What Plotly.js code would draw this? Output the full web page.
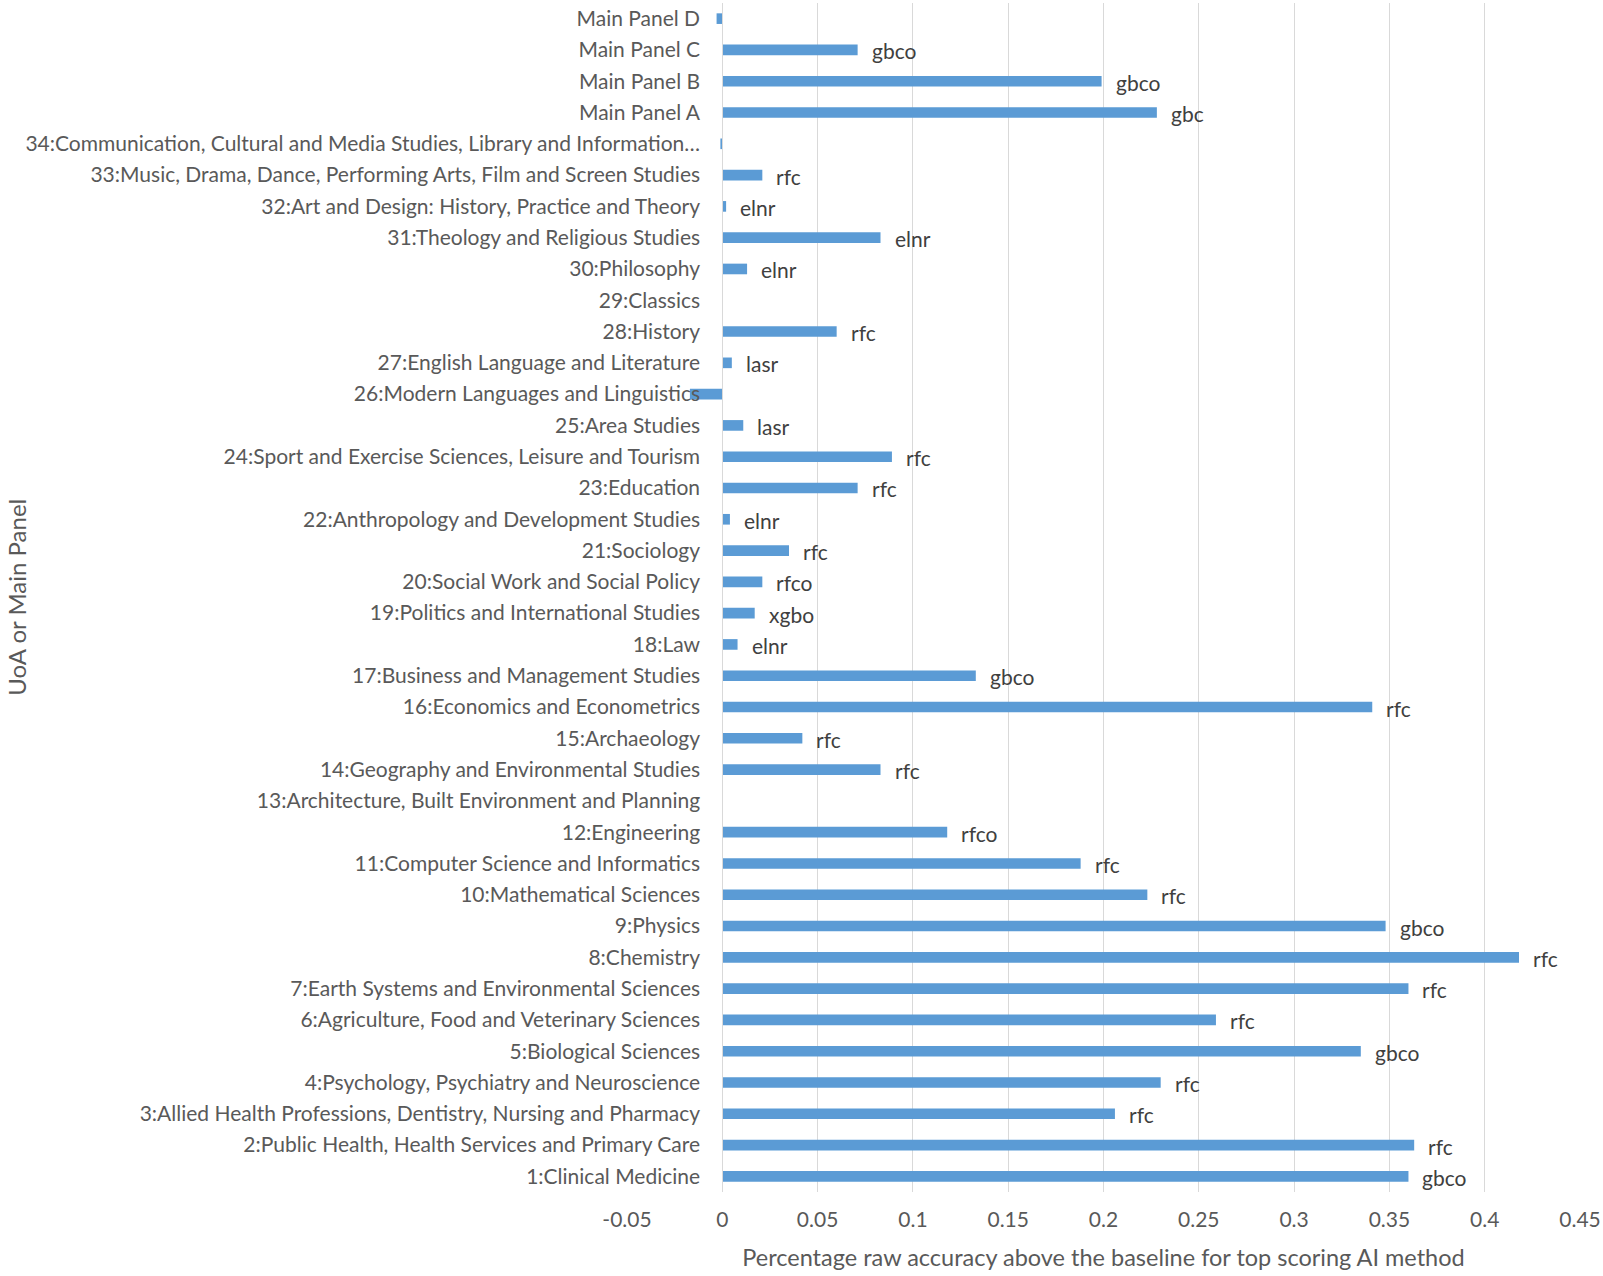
<!DOCTYPE html>
<html>
<head>
<meta charset="utf-8">
<script src="https://cdn.plot.ly/plotly-3.0.1.min.js"></script>
<style>html,body{margin:0;padding:0;background:#fff;}#chart{width:1603px;height:1276px;}</style>
</head>
<body>
<div id="chart"></div>
<script>
// Categories listed bottom to top
const categories = [
  "1:Clinical Medicine",
  "2:Public Health, Health Services and Primary Care",
  "3:Allied Health Professions, Dentistry, Nursing and Pharmacy",
  "4:Psychology, Psychiatry and Neuroscience",
  "5:Biological Sciences",
  "6:Agriculture, Food and Veterinary Sciences",
  "7:Earth Systems and Environmental Sciences",
  "8:Chemistry",
  "9:Physics",
  "10:Mathematical Sciences",
  "11:Computer Science and Informatics",
  "12:Engineering",
  "13:Architecture, Built Environment and Planning",
  "14:Geography and Environmental Studies",
  "15:Archaeology",
  "16:Economics and Econometrics",
  "17:Business and Management Studies",
  "18:Law",
  "19:Politics and International Studies",
  "20:Social Work and Social Policy",
  "21:Sociology",
  "22:Anthropology and Development Studies",
  "23:Education",
  "24:Sport and Exercise Sciences, Leisure and Tourism",
  "25:Area Studies",
  "26:Modern Languages and Linguistics",
  "27:English Language and Literature",
  "28:History",
  "29:Classics",
  "30:Philosophy",
  "31:Theology and Religious Studies",
  "32:Art and Design: History, Practice and Theory",
  "33:Music, Drama, Dance, Performing Arts, Film and Screen Studies",
  "34:Communication, Cultural and Media Studies, Library and Information\u2026",
  "Main Panel A",
  "Main Panel B",
  "Main Panel C",
  "Main Panel D"
];
const accuracyAboveBaseline = [
  0.360, 0.363, 0.206, 0.230, 0.335, 0.259, 0.360, 0.418, 0.348, 0.223,
  0.188, 0.118, 0.000, 0.083, 0.042, 0.341, 0.133, 0.008, 0.017, 0.021,
  0.035, 0.004, 0.071, 0.089, 0.011, -0.017, 0.005, 0.060, 0.000, 0.013,
  0.083, 0.002, 0.021, -0.001, 0.228, 0.199, 0.071, -0.003
];
const topMethod = [
  "gbco", "rfc", "rfc", "rfc", "gbco", "rfc", "rfc", "rfc", "gbco", "rfc",
  "rfc", "rfco", "", "rfc", "rfc", "rfc", "gbco", "elnr", "xgbo", "rfco",
  "rfc", "elnr", "rfc", "rfc", "lasr", "", "lasr", "rfc", "", "elnr",
  "elnr", "elnr", "rfc", "", "gbc", "gbco", "gbco", ""
];
const xTickValues = [-0.05, 0, 0.05, 0.1, 0.15, 0.2, 0.25, 0.3, 0.35, 0.4, 0.45];
const xTickLabels = ["-0.05", "0", "0.05", "0.1", "0.15", "0.2", "0.25", "0.3", "0.35", "0.4", "0.45"];

const FONT = "Lato, 'Open Sans', sans-serif";

const annotations = [];
topMethod.forEach((m, i) => {
  if (!m) return;
  annotations.push({
    x: Math.max(accuracyAboveBaseline[i], 0), y: categories[i],
    xref: 'x', yref: 'y', text: m, showarrow: false,
    xanchor: 'left', yanchor: 'middle', xshift: 12, yshift: -1,
    font: {family: FONT, size: 21, color: '#404040'}
  });
});
annotations.push({
  x: -0.641, y: 0.5, xref: 'paper', yref: 'paper', text: 'UoA or Main Panel',
  showarrow: false, textangle: -90, xanchor: 'center', yanchor: 'middle',
  font: {family: FONT, size: 24, color: '#595959'}
});

const trace = {
  type: 'bar', orientation: 'h',
  x: accuracyAboveBaseline, y: categories,
  marker: {color: '#5B9BD5'},
  hoverinfo: 'x+y'
};

const layout = {
  width: 1603, height: 1276,
  margin: {l: 626.5, r: 23, t: 3, b: 84},
  paper_bgcolor: '#fff', plot_bgcolor: '#fff',
  bargap: 0.66,
  showlegend: false,
  font: {family: FONT, size: 21, color: '#595959'},
  xaxis: {
    range: [-0.05, 0.45], tickvals: xTickValues, ticktext: xTickLabels,
    showgrid: true, gridcolor: '#D9D9D9', gridwidth: 1,
    zeroline: false, showline: false, ticks: '',
    ticklabelstandoff: 13,
    tickfont: {family: FONT, size: 21, color: '#595959'},
    title: {text: 'Percentage raw accuracy above the baseline for top scoring AI method',
            font: {family: FONT, size: 23.5, color: '#595959'}, standoff: 19},
    fixedrange: true
  },
  yaxis: {
    type: 'category', categoryorder: 'array', categoryarray: categories,
    anchor: 'free', position: 0.1,
    showgrid: false, zeroline: false, showline: true, linecolor: '#D9D9D9', linewidth: 1,
    ticks: '', automargin: false, ticklabelstandoff: 18,
    tickfont: {family: FONT, size: 21, color: '#595959'},
    fixedrange: true
  },
  annotations: annotations
};

Plotly.newPlot('chart', [trace], layout, {displayModeBar: false, staticPlot: true});
</script>
</body>
</html>
